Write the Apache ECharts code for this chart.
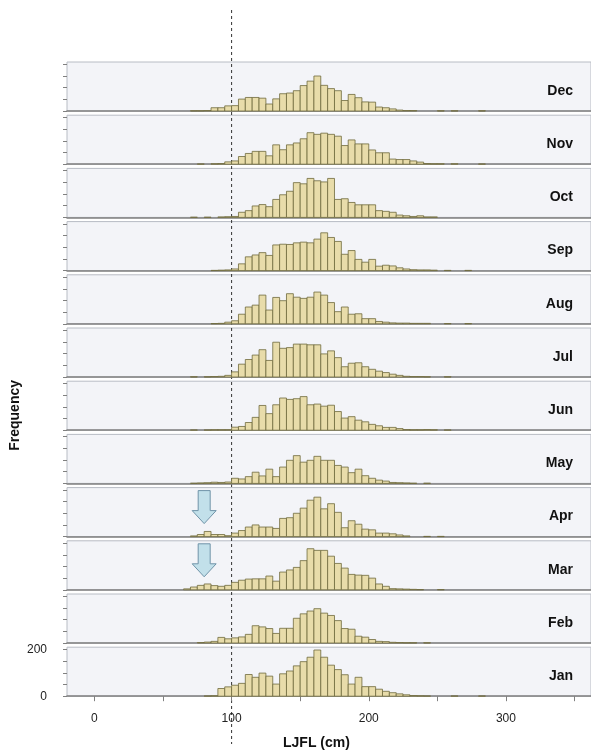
<!DOCTYPE html>
<html>
<head>
<meta charset="utf-8">
<script src="https://cdn.jsdelivr.net/npm/echarts@6/dist/echarts.min.js"></script>
<style>
  html, body { margin: 0; padding: 0; background: #fff; }
  #chart { width: 591px; height: 753px; }
</style>
</head>
<body>
<div id="chart"></div>
<script>
// months, top panel first
const months = ['Dec', 'Nov', 'Oct', 'Sep', 'Aug', 'Jul', 'Jun', 'May', 'Apr', 'Mar', 'Feb', 'Jan'];
const binWidth = 5;
// each entry: [bin start (cm), count]
const dec = [[70,1],[75,1],[80,2],[85,14],[90,14],[95,22],[100,23],[105,51],[110,58],[115,58],[120,55],[125,30],[130,52],[135,74],[140,77],[145,87],[150,109],[155,128],[160,150],[165,110],[170,96],[175,87],[180,45],[185,71],[190,57],[195,39],[200,38],[205,17],[210,14],[215,9],[220,4],[225,2],[230,2],[250,1],[260,1],[280,1]];
const nov = [[75,1],[85,2],[90,3],[95,10],[100,14],[105,33],[110,46],[115,55],[120,55],[125,36],[130,83],[135,62],[140,83],[145,91],[150,109],[155,135],[160,128],[165,133],[170,128],[175,120],[180,80],[185,104],[190,87],[195,87],[200,61],[205,49],[210,49],[215,22],[220,20],[225,20],[230,14],[235,9],[240,3],[245,2],[250,2],[260,2],[280,1]];
const oct = [[70,1],[80,1],[90,2],[95,3],[100,4],[105,22],[110,29],[115,49],[120,55],[125,46],[130,77],[135,97],[140,112],[145,149],[150,144],[155,167],[160,157],[165,152],[170,167],[175,77],[180,80],[185,64],[190,54],[195,54],[200,54],[205,29],[210,26],[215,22],[220,10],[225,7],[230,4],[235,7],[240,2],[245,2]];
const sep = [[85,1],[90,2],[95,3],[100,7],[105,29],[110,59],[115,67],[120,77],[125,65],[130,110],[135,113],[140,112],[145,119],[150,122],[155,119],[160,135],[165,162],[170,142],[175,125],[180,70],[185,86],[190,48],[195,36],[200,48],[205,19],[210,23],[215,20],[220,12],[225,7],[230,4],[235,3],[240,3],[245,2],[255,1],[270,1]];
const aug = [[85,1],[90,2],[95,7],[100,13],[105,41],[110,72],[115,80],[120,123],[125,59],[130,113],[135,99],[140,129],[145,114],[150,109],[155,114],[160,136],[165,123],[170,91],[175,52],[180,72],[185,41],[190,43],[195,22],[200,22],[205,10],[210,7],[215,4],[220,3],[225,3],[230,2],[235,2],[240,2],[255,1],[270,1]];
const jul = [[70,1],[80,1],[85,2],[90,3],[95,7],[100,22],[105,55],[110,75],[115,94],[120,117],[125,71],[130,149],[135,123],[140,126],[145,141],[150,141],[155,138],[160,138],[165,99],[170,112],[175,83],[180,44],[185,59],[190,61],[195,44],[200,33],[205,25],[210,19],[215,12],[220,7],[225,3],[230,2],[235,2],[240,1],[255,1]];
const jun = [[70,1],[80,1],[85,2],[90,2],[95,2],[100,13],[105,16],[110,33],[115,55],[120,106],[125,71],[130,109],[135,138],[140,132],[145,135],[150,144],[155,109],[160,112],[165,103],[170,107],[175,80],[180,52],[185,58],[190,43],[195,36],[200,25],[205,19],[210,12],[215,12],[220,7],[225,3],[230,2],[235,2],[240,3],[245,2],[255,1]];
const may = [[70,1],[75,2],[80,3],[85,5],[90,4],[95,6],[100,22],[105,19],[110,29],[115,48],[120,32],[125,61],[130,29],[135,70],[140,99],[145,119],[150,91],[155,99],[160,116],[165,99],[170,99],[175,77],[180,70],[185,46],[190,61],[195,33],[200,22],[205,14],[210,10],[215,4],[220,3],[225,2],[230,1],[240,1]];
const apr = [[70,3],[75,9],[80,22],[85,9],[90,9],[95,4],[100,15],[105,26],[110,41],[115,50],[120,41],[125,41],[130,35],[135,78],[140,81],[145,100],[150,122],[155,156],[160,169],[165,119],[170,141],[175,104],[180,38],[185,68],[190,53],[195,32],[200,29],[205,15],[210,15],[215,12],[220,7],[225,3],[240,1],[250,1]];
const mar = [[65,4],[70,12],[75,19],[80,25],[85,18],[90,15],[95,19],[100,32],[105,41],[110,46],[115,47],[120,47],[125,59],[130,37],[135,76],[140,85],[145,96],[150,125],[155,176],[160,169],[165,169],[170,144],[175,113],[180,93],[185,66],[190,63],[195,62],[200,50],[205,25],[210,15],[215,5],[220,4],[225,3],[230,2],[235,1],[250,1]];
const feb = [[75,2],[80,4],[85,7],[90,24],[95,18],[100,22],[105,26],[110,37],[115,74],[120,69],[125,62],[130,41],[135,63],[140,63],[145,106],[150,125],[155,137],[160,147],[165,128],[170,118],[175,96],[180,62],[185,59],[190,29],[195,25],[200,15],[205,7],[210,6],[215,3],[220,2],[225,1],[230,1],[240,1]];
const jan = [[80,1],[85,2],[90,33],[95,40],[100,47],[105,55],[110,93],[115,81],[120,99],[125,86],[130,52],[135,96],[140,108],[145,130],[150,148],[155,167],[160,198],[165,167],[170,133],[175,114],[180,92],[185,52],[190,81],[195,41],[200,41],[205,30],[210,21],[215,15],[220,10],[225,6],[230,3],[235,2],[240,1],[260,1],[280,1]];
const monthData = [dec, nov, oct, sep, aug, jul, jun, may, apr, mar, feb, jan];
const xTicks = [0, 50, 100, 150, 200, 250, 300, 350];
const xLabels = [0, 100, 200, 300];
const yTicks = [0, 50, 100, 150, 200];
const yLabels = [0, 200];
const arrowMonths = ['Apr', 'Mar'];
const arrowAt = 80;
const cutoff = 100;

const chart = echarts.init(document.getElementById('chart'));
const top0 = 62, step = 53.2, panelH = 49;
const last = months.length - 1;

let grids = [], xAxes = [], yAxes = [], series = [];
months.forEach((m, i) => {
    grids.push({
        left: 67, right: 0, top: top0 + i * step, height: panelH,
        show: true, backgroundColor: '#f3f4f8', borderColor: '#b8bcc4', borderWidth: 1
    });
    xAxes.push({
        gridIndex: i, type: 'value', min: -20, max: 362,
        splitLine: { show: false },
        axisLine: { show: true, onZero: false, lineStyle: { color: '#808080', width: 1.5 } },
        axisTick: { show: i === last, customValues: xTicks, length: 5, inside: false, lineStyle: { color: '#808080' } },
        axisLabel: { show: i === last, customValues: xLabels, color: '#222', fontSize: 12, margin: 16, fontFamily: 'Liberation Sans' }
    });
    yAxes.push({
        gridIndex: i, type: 'value', min: 0, max: 210,
        splitLine: { show: false },
        axisLine: { show: false, onZero: false },
        axisTick: { show: true, customValues: yTicks, length: 4, lineStyle: { color: '#808080' } },
        axisLabel: { show: i === last, customValues: yLabels, color: '#222', fontSize: 12, margin: 20, fontFamily: 'Liberation Sans' }
    });
    series.push({
        type: 'custom', xAxisIndex: i, yAxisIndex: i, data: monthData[i],
        renderItem: function (params, api) {
            const p0 = api.coord([api.value(0), 0]);
            const p1 = api.coord([api.value(0) + binWidth, api.value(1)]);
            return {
                type: 'rect',
                shape: { x: p0[0], y: p1[1], width: p1[0] - p0[0], height: p0[1] - p1[1] },
                style: { fill: '#e8dcaa', stroke: '#6e6a3c', lineWidth: 0.8 }
            };
        }
    });
});

chart.setOption({
    animation: false,
    grid: grids, xAxis: xAxes, yAxis: yAxes, series: series
});

// labels, arrows and the 100 cm reference line
let graphics = [];
months.forEach((m, i) => {
    graphics.push({
        type: 'text', right: 18, top: top0 + i * step + 22,
        style: { text: m, font: 'bold 14px "Liberation Sans", Arial', fill: '#111' }
    });
    if (arrowMonths.includes(m)) {
        const x = chart.convertToPixel({ xAxisIndex: i }, arrowAt);
        const t = top0 + i * step + 3;
        graphics.push({
            type: 'polygon',
            shape: { points: [[x - 6, t], [x + 6, t], [x + 6, t + 20], [x + 12, t + 20], [x, t + 33], [x - 12, t + 20], [x - 6, t + 20]] },
            style: { fill: '#c2e0ea', stroke: '#6f93a8', lineWidth: 1 }
        });
    }
});
const xc = chart.convertToPixel({ xAxisIndex: last }, cutoff);
graphics.push({
    type: 'line', shape: { x1: xc, y1: 10, x2: xc, y2: 744 },
    style: { stroke: '#333', lineWidth: 1, lineDash: [3, 3] }
});
graphics.push({
    type: 'text', left: 8, top: 380, rotation: Math.PI / 2,
    style: { text: 'Frequency', font: 'bold 14px "Liberation Sans", Arial', fill: '#111', align: 'center', verticalAlign: 'middle' }
});
graphics.push({
    type: 'text', left: 283, top: 736,
    style: { text: 'LJFL (cm)', font: 'bold 14px "Liberation Sans", Arial', fill: '#111' }
});
chart.setOption({ graphic: graphics });
</script>
</body>
</html>
